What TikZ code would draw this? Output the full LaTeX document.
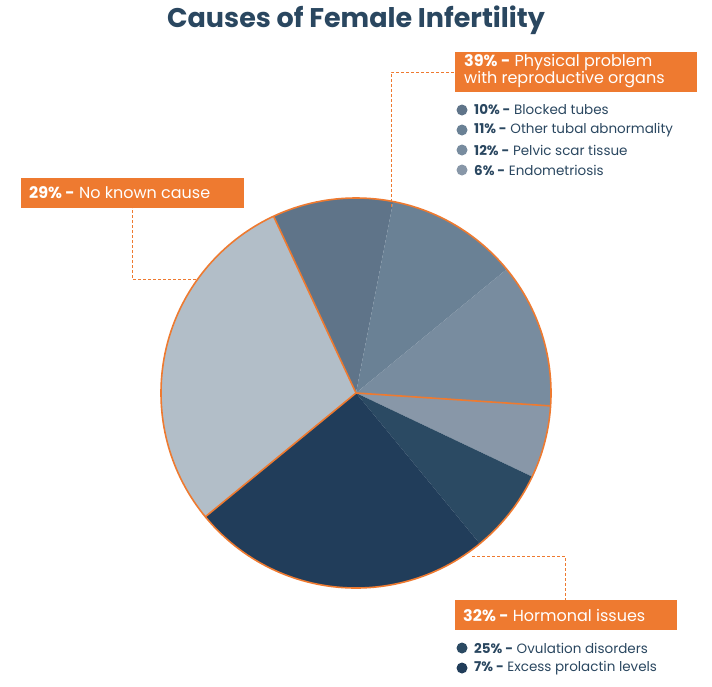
\documentclass[tikz,border=0pt]{standalone}
\usepackage{fontspec}
\setmainfont{Poppins}
\definecolor{orng}{HTML}{EE7A30}
\definecolor{navy}{HTML}{2A4760}
\definecolor{sA}{HTML}{5F7489}
\definecolor{sB}{HTML}{6A8195}
\definecolor{sC}{HTML}{788C9F}
\definecolor{sD}{HTML}{8897A8}
\definecolor{sE}{HTML}{2B4A63}
\definecolor{sF}{HTML}{213D5A}
\definecolor{sG}{HTML}{B2BEC8}
\tikzset{
  headbox/.style={fill=orng, text=white, anchor=north west, inner sep=0pt, font=\fontsize{16}{15}\selectfont, align=left},
  item/.style={anchor=west, text=navy, font=\fontsize{13.5}{14}\selectfont, inner sep=0pt},
  dot/.style={circle, fill=#1, minimum size=11pt, inner sep=0pt},
  leader/.style={orng, densely dashed, line width=0.5pt}
}
\begin{document}
\begin{tikzpicture}[x=1pt, y=-1pt]
\useasboundingbox (0,0) rectangle (712,686);
\node[text=navy, font=\fontsize{27}{27}\selectfont\bfseries] (title) at (356,20) {Causes of Female Infertility};

% slices
\coordinate (c) at (356,393);
\foreach \a/\b/\col in {115/79/sA, 79/39.4/sB, 39.4/-3.8/sC, -3.8/-25.4/sD,
  -25.4/-50.6/sE, -50.6/-140.6/sF, -140.6/-245/sG}
  \fill[\col] (c) -- ++(-\a:195) arc[start angle=-\a, end angle=-\b, radius=195] -- cycle;
\draw[orng, line width=1.6pt] (c) circle[radius=195];
\foreach \a in {115, -3.8, -140.6}
  \draw[orng, line width=1.6pt] (c) -- ++(-\a:195);

% boxes
\fill[orng] (455,52) rectangle (697,92);
\node[headbox] (phys) at (464,54) {\textbf{39\% -} Physical problem\\with reproductive organs};
\fill[orng] (21,178) rectangle (244,208);
\node[headbox, anchor=west] (none) at (29,193) {\textbf{29\% -} No known cause};
\fill[orng] (455,600) rectangle (677,630);
\node[headbox, anchor=west] (horm) at (463,615) {\textbf{32\% -} Hormonal issues};

% leaders
\coordinate (pA) at (391,207);
\coordinate (pB) at (196,279);
\coordinate (pC) at (472,556);
\draw[leader] (pA) |- (455,72);
\draw[leader] (pB) -| (132,208);
\draw[leader] (pC) -| (565,600);

% legend
\foreach \y/\col/\txt in {110/sA/{\textbf{10\% -} Blocked tubes}, 130/sB/{\textbf{11\% -} Other tubal abnormality},
  150/sC/{\textbf{12\% -} Pelvic scar tissue}, 170/sD/{\textbf{6\% -} Endometriosis},
  648/sE/{\textbf{25\% -} Ovulation disorders}, 668/sF/{\textbf{7\% -} Excess prolactin levels}}
{
  \node[dot=\col] at (462,\y) {};
  \node[item] at (474,\y) {\txt};
}
\end{tikzpicture}
\end{document}
